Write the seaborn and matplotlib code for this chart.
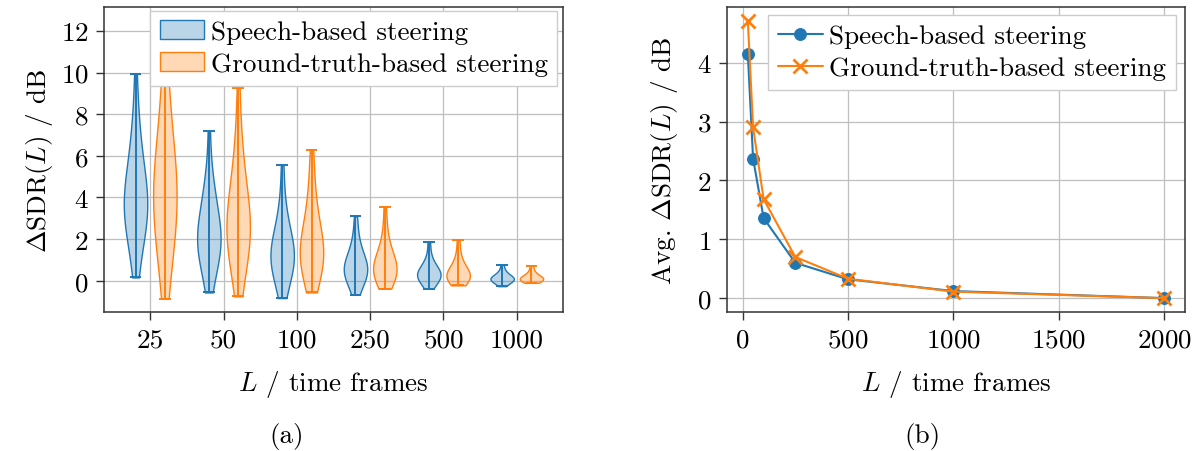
import numpy as np
import pandas as pd
import matplotlib
matplotlib.use("Agg")
import matplotlib.pyplot as plt
from matplotlib.patches import Patch
from matplotlib.colors import to_rgba
import seaborn as sns

# Frame lengths shown as categories in the violin panel
frame_lengths = ["25", "50", "100", "250", "500", "1000"]
method_names = ["Speech-based steering", "Ground-truth-based steering"]

# Per-utterance SDR improvement (dB) for each frame length, speech-based steering
speech_delta = [
    [0.16, 1.0, 1.6, 2.1, 2.5, 2.8, 3.0, 3.2, 3.3, 3.4, 3.5, 3.7, 3.9, 4.1, 4.3, 4.6,
     4.9, 5.2, 5.6, 6.0, 6.6, 7.2, 8.0, 9.94],
    [-0.56, 0.1, 0.5, 0.8, 1.1, 1.3, 1.5, 1.7, 1.8, 1.9, 2.0, 2.1, 2.3, 2.5, 2.7, 2.9,
     3.2, 3.5, 3.9, 4.3, 4.6, 5.2, 7.2],
    [-0.83, -0.2, 0.2, 0.45, 0.65, 0.8, 0.95, 1.05, 1.15, 1.3, 1.45, 1.6, 1.8, 2.0, 2.3,
     2.7, 3.2, 3.9, 5.54],
    [-0.66, -0.2, 0.05, 0.2, 0.3, 0.38, 0.45, 0.52, 0.6, 0.7, 0.82, 0.95, 1.1, 1.35, 1.7,
     2.2, 3.09],
    [-0.38, -0.12, 0.02, 0.1, 0.16, 0.21, 0.25, 0.29, 0.33, 0.38, 0.45, 0.54, 0.66, 0.85,
     1.15, 1.87],
    [-0.26, -0.1, -0.03, 0.01, 0.04, 0.06, 0.08, 0.1, 0.12, 0.15, 0.19, 0.25, 0.34, 0.5,
     0.77],
]

# Per-utterance SDR improvement (dB) for each frame length, ground-truth-based steering
truth_delta = [
    [-0.86, 0.3, 0.9, 1.5, 2.0, 2.4, 2.8, 3.1, 3.4, 3.7, 3.9, 4.1, 4.4, 4.7, 5.0, 5.3,
     5.7, 6.1, 6.6, 7.2, 7.9, 8.8, 10.0, 12.4],
    [-0.75, 0.2, 0.7, 1.1, 1.4, 1.7, 1.9, 2.1, 2.3, 2.5, 2.7, 2.9, 3.1, 3.4, 3.7, 4.0,
     4.4, 4.9, 5.5, 6.2, 7.2, 9.25],
    [-0.56, 0.0, 0.35, 0.6, 0.8, 0.95, 1.05, 1.15, 1.3, 1.45, 1.6, 1.8, 2.05, 2.3, 2.6,
     3.0, 3.5, 4.2, 5.0, 6.29],
    [-0.38, -0.05, 0.12, 0.25, 0.33, 0.4, 0.47, 0.55, 0.63, 0.72, 0.85, 1.0, 1.2, 1.45,
     1.8, 2.4, 3.55],
    [-0.22, -0.05, 0.04, 0.1, 0.14, 0.18, 0.22, 0.26, 0.31, 0.37, 0.45, 0.56, 0.72, 0.95,
     1.3, 1.94],
    [-0.1, -0.03, 0.01, 0.03, 0.05, 0.07, 0.09, 0.11, 0.13, 0.16, 0.2, 0.26, 0.35, 0.5,
     0.72],
]

# Average SDR improvement (dB) versus frame length
avg_lengths = [25, 50, 100, 250, 500, 1000, 2000]
avg_speech = [4.15, 2.37, 1.36, 0.60, 0.32, 0.12, 0.0]
avg_truth = [4.71, 2.90, 1.68, 0.70, 0.33, 0.11, 0.0]

blue = "#1f77b4"
orange = "#ff7f0e"
FS = 19.5

sns.set_style("whitegrid")
plt.rcParams.update({
    "font.family": "cmr10",
    "mathtext.fontset": "cm",
    "axes.formatter.use_mathtext": True,
    "axes.unicode_minus": False,
    "font.size": FS,
    "axes.labelsize": FS,
    "xtick.labelsize": FS,
    "ytick.labelsize": FS,
    "legend.fontsize": FS,
    "axes.edgecolor": "0.2",
    "axes.linewidth": 1.1,
    "grid.color": "0.75",
    "grid.linewidth": 0.9,
    "xtick.bottom": True,
    "ytick.left": True,
    "xtick.direction": "out",
    "ytick.direction": "out",
    "xtick.major.size": 6,
    "ytick.major.size": 6,
    "xtick.major.width": 1.0,
    "ytick.major.width": 1.0,
    "xtick.major.pad": 5,
    "ytick.major.pad": 5,
    "xtick.color": "0.2",
    "ytick.color": "0.2",
    "xtick.labelcolor": "black",
    "ytick.labelcolor": "black",
    "axes.labelcolor": "black",
    "text.color": "black",
})

rows = []
for method, groups in zip(method_names, [speech_delta, truth_delta]):
    for length, values in zip(frame_lengths, groups):
        for v in values:
            rows.append({"L": length, "delta": v, "method": method})
df = pd.DataFrame(rows)

fig = plt.figure(figsize=(12, 4.52), dpi=100)
ax1 = fig.add_axes([104 / 1200, 139 / 452, 459 / 1200, 305 / 452])
ax2 = fig.add_axes([727 / 1200, 139 / 452, 458 / 1200, 305 / 452])

legend_style = dict(
    loc="upper right", borderaxespad=0.0, fancybox=False, framealpha=1.0,
    edgecolor="0.8", handlelength=1.65, handletextpad=0.25,
    labelspacing=0.3, borderpad=0.35,
)

# ---- (a) violin plots ----
sns.violinplot(
    data=df, x="L", y="delta", hue="method",
    order=frame_lengths, hue_order=method_names,
    palette=[blue, orange], saturation=1,
    density_norm="width", cut=0, inner=None, bw_adjust=1.25,
    width=0.8, gap=0.2, linewidth=1.0, legend=False, ax=ax1,
)

# Light fill, solid outline, plus extrema bars with caps
for coll in list(ax1.collections):
    verts = coll.get_paths()[0].vertices
    base = tuple(coll.get_facecolor()[0][:3])
    coll.set_facecolor((*base, 0.3))
    coll.set_edgecolor((*base, 1.0))
    coll.set_linewidth(1.0)
    xc = 0.5 * (verts[:, 0].min() + verts[:, 0].max())
    half = 0.25 * (verts[:, 0].max() - verts[:, 0].min())
    lo, hi = verts[:, 1].min(), verts[:, 1].max()
    ax1.vlines(xc, lo, hi, color=base, lw=1.4, zorder=3)
    ax1.hlines([lo, hi], xc - half, xc + half, color=base, lw=1.4, zorder=3)

ax1.set_xlim(-0.63, 5.63)
ax1.set_ylim(-1.5, 13.15)
ax1.set_yticks(np.arange(0, 13, 2))
ax1.xaxis.grid(True)
ax1.yaxis.grid(True)
ax1.set_axisbelow(True)
ax1.set_xlabel(r"$L$ / time frames", labelpad=12)
ax1.set_ylabel(r"$\Delta\mathrm{SDR}(L)$ / dB")
for s in ax1.spines.values():
    s.set_visible(True)

violin_handles = [
    Patch(facecolor=to_rgba(blue, 0.3), edgecolor=blue, linewidth=1.0),
    Patch(facecolor=to_rgba(orange, 0.3), edgecolor=orange, linewidth=1.0),
]
leg1 = ax1.legend(violin_handles, method_names,
                  bbox_to_anchor=(0.988, 0.988), **legend_style)
leg1.get_frame().set_linewidth(1.0)
leg1.set_zorder(5)

# ---- (b) average improvement ----
sns.lineplot(x=avg_lengths, y=avg_speech, color=blue, marker="o", markersize=8.5,
             markeredgecolor=blue, linewidth=1.5, label=method_names[0], ax=ax2)
sns.lineplot(x=avg_lengths, y=avg_truth, color=orange, marker="x", markersize=9.5,
             markeredgecolor=orange, markeredgewidth=2.0, linewidth=1.5,
             label=method_names[1], ax=ax2)

ax2.set_xticks([0, 500, 1000, 1500, 2000])
ax2.set_yticks([0, 1, 2, 3, 4])
ax2.grid(True)
ax2.set_axisbelow(True)
ax2.set_xlabel(r"$L$ / time frames", labelpad=12)
ax2.set_ylabel(r"Avg. $\Delta\mathrm{SDR}(L)$ / dB", labelpad=12)
for s in ax2.spines.values():
    s.set_visible(True)
leg2 = ax2.legend(bbox_to_anchor=(0.98, 0.975), **legend_style)
leg2.get_frame().set_linewidth(1.0)

fig.text(287 / 1200, 1 - 437 / 452, "(a)", ha="center", va="center", fontsize=FS)
fig.text(922 / 1200, 1 - 437 / 452, "(b)", ha="center", va="center", fontsize=FS)

fig.savefig("out.png", dpi=100)
